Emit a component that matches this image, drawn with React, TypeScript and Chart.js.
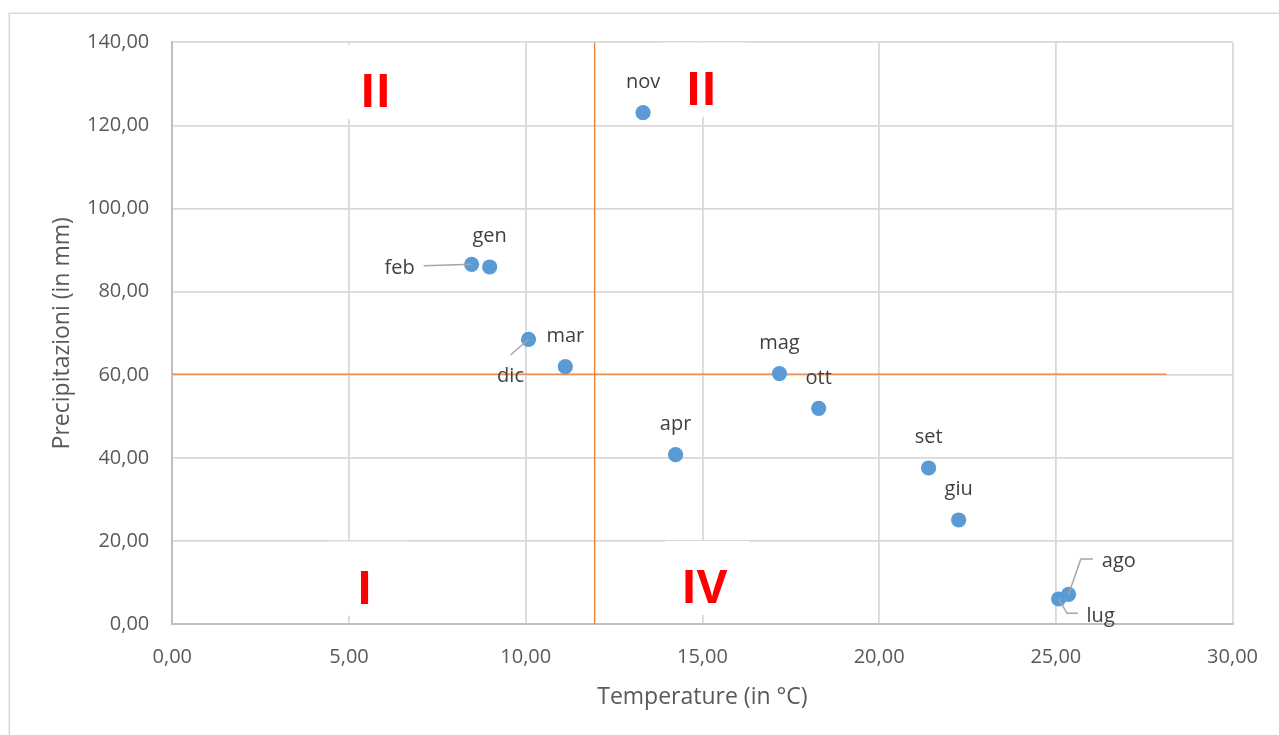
import React, { useEffect, useRef } from 'react';
import { Chart, registerables } from 'chart.js';

Chart.register(...registerables);

// ---- data ----
const months = ['gen', 'feb', 'mar', 'apr', 'mag', 'giu', 'lug', 'ago', 'set', 'ott', 'nov', 'dic'];
const temperature = [8.98, 8.47, 11.12, 14.24, 17.18, 22.25, 25.08, 25.36, 21.4, 18.29, 13.32, 10.08];
const precipitation = [85.95, 86.6, 61.97, 40.8, 60.3, 25.09, 6.09, 7.2, 37.6, 51.96, 123.07, 68.56];

const quadrantNames = ['II', 'II', 'I', 'IV'];
const quadrantX = [5.75, 14.97, 5.44, 15.05];
const quadrantY = [124.4, 125.0, 4.96, 5.12];

const splitTemperature = 11.95;
const splitPrecipitation = 60.2;
const splitLineEnd = 28.13;

const xRange = [0, 30];
const xStep = 5;
const yRange = [0, 140];
const yStep = 20;

const xTitle = 'Temperature (in °C)';
const yTitle = 'Precipitazioni (in mm)';

// ---- styles ----
const FONT = '"Open Sans", "DejaVu Sans", sans-serif';
const POINT_COLOR = '#5B9BD5';
const SPLIT_COLOR = '#ED7D31';
const GRID_COLOR = '#D9D9D9';
const AXIS_COLOR = '#BFBFBF';
const TEXT_COLOR = '#595959';
const LABEL_COLOR = '#404040';
const LEADER_COLOR = '#A6A6A6';

type Placement = { dx: number; dy: number; leader?: number[][] };
const defaultPlacement: Placement = { dx: 0, dy: -24.5 };
const labelPlacement: Record<string, Placement> = {
  feb: { dx: -72, dy: 9.7, leader: [[-48, 1.5], [0, 0]] },
  dic: { dx: -18, dy: 42.4, leader: [[-18, 15.7], [0, 0]] },
  ago: { dx: 50.3, dy: -27.6, leader: [[0, 0], [12.3, -35.3], [24.3, -35.3]] },
  lug: { dx: 42, dy: 22.7, leader: [[0, 0], [8.3, 14.3], [19.3, 14.3]] },
};

const fmt = (v: number | string) => Number(v).toFixed(2).replace('.', ',');

const overlayPlugin = {
  id: 'overlay',
  beforeDraw(chart: any) {
    const ctx = chart.ctx;
    ctx.save();
    ctx.fillStyle = '#FFFFFF';
    ctx.fillRect(0, 0, chart.width, chart.height);
    ctx.strokeStyle = GRID_COLOR;
    ctx.lineWidth = 1.6;
    ctx.beginPath();
    ctx.moveTo(9.3, chart.height + 2);
    ctx.lineTo(9.3, 13.3);
    ctx.lineTo(chart.width + 2, 13.3);
    ctx.stroke();
    ctx.restore();
  },
  beforeDatasetsDraw(chart: any) {
    const ctx = chart.ctx;
    const xs = chart.scales.x;
    const ys = chart.scales.y;
    ctx.save();
    ctx.font = `bold 47px ${FONT}`;
    ctx.textAlign = 'center';
    ctx.textBaseline = 'alphabetic';
    quadrantNames.forEach((name, i) => {
      const px = xs.getPixelForValue(quadrantX[i]);
      const py = ys.getPixelForValue(quadrantY[i]);
      ctx.fillStyle = '#FFFFFF';
      ctx.fillRect(px - 39, py - 62, 84, 74);
      ctx.fillStyle = '#FF0000';
      ctx.fillText(name, px, py);
    });
    ctx.restore();
  },
  afterDatasetsDraw(chart: any) {
    const ctx = chart.ctx;
    const meta = chart.getDatasetMeta(0);
    ctx.save();
    ctx.font = `20px ${FONT}`;
    ctx.textAlign = 'center';
    ctx.textBaseline = 'alphabetic';
    meta.data.forEach((el: any, i: number) => {
      const name = months[i];
      const p = labelPlacement[name] || defaultPlacement;
      if (p.leader) {
        ctx.strokeStyle = LEADER_COLOR;
        ctx.lineWidth = 1.5;
        ctx.beginPath();
        p.leader.forEach(([lx, ly], k) => {
          if (k === 0) ctx.moveTo(el.x + lx, el.y + ly);
          else ctx.lineTo(el.x + lx, el.y + ly);
        });
        ctx.stroke();
      }
      ctx.fillStyle = LABEL_COLOR;
      ctx.fillText(name, el.x + p.dx, el.y + p.dy);
    });
    ctx.restore();
  },
};

export default function App() {
  const canvasRef = useRef<HTMLCanvasElement | null>(null);

  useEffect(() => {
    if (!canvasRef.current) return;
    const points = temperature.map((t, i) => ({ x: t, y: precipitation[i] }));
    const chart = new Chart(canvasRef.current, {
      type: 'scatter',
      data: {
        datasets: [
          {
            label: 'Mesi',
            data: points,
            backgroundColor: POINT_COLOR,
            borderColor: POINT_COLOR,
            borderWidth: 0,
            pointRadius: 7.6,
            showLine: false,
          },
          {
            label: 'Temperatura',
            data: [
              { x: splitTemperature, y: yRange[0] },
              { x: splitTemperature, y: yRange[1] },
            ],
            showLine: true,
            borderColor: SPLIT_COLOR,
            borderWidth: 1.3,
            pointRadius: 0,
            fill: false,
          },
          {
            label: 'Precipitazioni',
            data: [
              { x: xRange[0], y: splitPrecipitation },
              { x: splitLineEnd, y: splitPrecipitation },
            ],
            showLine: true,
            borderColor: SPLIT_COLOR,
            borderWidth: 1.3,
            pointRadius: 0,
            fill: false,
          },
        ],
      },
      options: {
        responsive: false,
        animation: false,
        devicePixelRatio: 1,
        layout: { padding: { left: 0, right: 44.7, top: 42.3, bottom: 0 } },
        plugins: {
          legend: { display: false },
          tooltip: { enabled: false },
        },
        scales: {
          x: {
            type: 'linear',
            min: xRange[0],
            max: xRange[1],
            ticks: {
              stepSize: xStep,
              callback: (v: any) => fmt(v),
              font: { family: FONT, size: 20 },
              color: TEXT_COLOR,
              padding: 21,
              maxRotation: 0,
              autoSkip: false,
            },
            grid: { color: GRID_COLOR, lineWidth: 1.8, drawTicks: false },
            border: { color: AXIS_COLOR, width: 2 },
            title: {
              display: true,
              text: xTitle,
              font: { family: FONT, size: 23 },
              color: TEXT_COLOR,
              padding: { top: 0, bottom: 23.8 },
            },
            afterFit: (s: any) => {
              s.height = 110.7;
            },
          },
          y: {
            type: 'linear',
            min: yRange[0],
            max: yRange[1],
            ticks: {
              stepSize: yStep,
              callback: (v: any) => fmt(v),
              font: { family: FONT, size: 20 },
              color: TEXT_COLOR,
              padding: 23,
              autoSkip: false,
            },
            grid: { color: GRID_COLOR, lineWidth: 1.8, drawTicks: false },
            border: { color: AXIS_COLOR, width: 2 },
            title: {
              display: true,
              text: yTitle,
              font: { family: FONT, size: 23 },
              color: TEXT_COLOR,
              padding: { top: 48.9, bottom: 0 },
            },
            afterFit: (s: any) => {
              s.width = 172.3;
            },
          },
        },
      } as any,
      plugins: [overlayPlugin],
    });
    return () => chart.destroy();
  }, []);

  return (
    <div
      style={{
        position: 'fixed',
        left: 0,
        top: 0,
        width: 1279,
        height: 735,
        background: '#FFFFFF',
        overflow: 'hidden',
      }}
    >
      <canvas ref={canvasRef} width={1279} height={735} style={{ width: 1279, height: 735, display: 'block' }} />
    </div>
  );
}
